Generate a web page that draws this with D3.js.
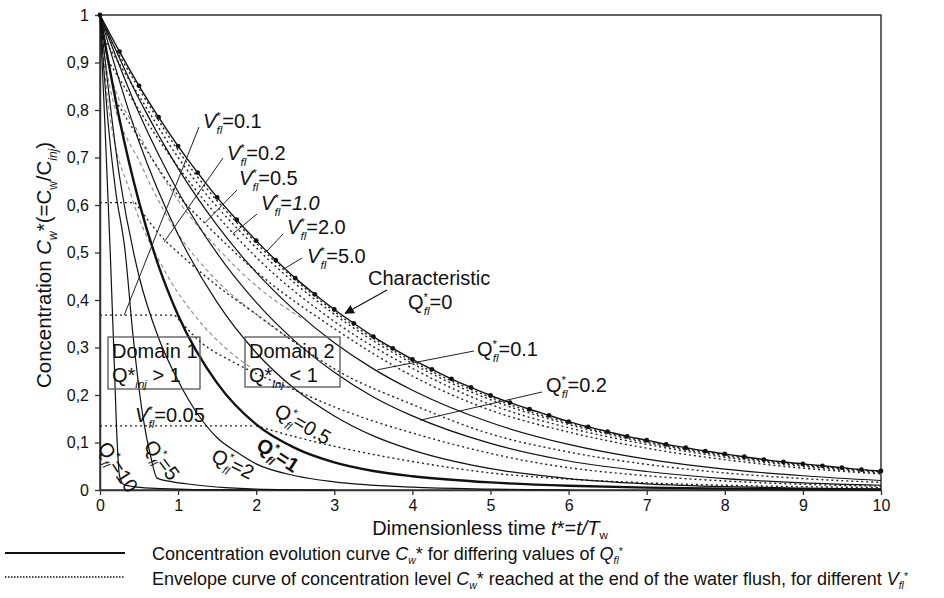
<!DOCTYPE html>
<html>
<head>
<meta charset="utf-8">
<script src="https://cdn.jsdelivr.net/npm/d3@7/dist/d3.min.js"></script>
<style>
  body { margin: 0; background: #fff; }
  text { font-family: "Liberation Sans", Arial, sans-serif; fill: #111; }
</style>
</head>
<body>
<div id="chart"></div>
<script>
// ---- data ----
const xTicks = [0, 1, 2, 3, 4, 5, 6, 7, 8, 9, 10];
const yTicks = [0, 0.1, 0.2, 0.3, 0.4, 0.5, 0.6, 0.7, 0.8, 0.9, 1];

// characteristic curve (Q_fl* = 0), one marker every 0.25
const charTime = [0, 0.25, 0.5, 0.75, 1, 1.25, 1.5, 1.75, 2, 2.25, 2.5, 2.75, 3, 3.25, 3.5, 3.75, 4, 4.25, 4.5, 4.75, 5,
  5.25, 5.5, 5.75, 6, 6.25, 6.5, 6.75, 7, 7.25, 7.5, 7.75, 8, 8.25, 8.5, 8.75, 9, 9.25, 9.5, 9.75, 10];
const charConc = [1, 0.923, 0.851, 0.785, 0.724, 0.668, 0.616, 0.569, 0.525, 0.484, 0.446, 0.412, 0.380, 0.351, 0.323,
  0.298, 0.275, 0.254, 0.234, 0.216, 0.199, 0.184, 0.170, 0.157, 0.144, 0.133, 0.123, 0.113, 0.105, 0.096, 0.089,
  0.082, 0.076, 0.070, 0.064, 0.059, 0.055, 0.051, 0.047, 0.043, 0.040];

// concentration evolution curves [t*, Cw*] for each Q_fl*
const curveQ0_1 = [[0, 1], [0.5, 0.823], [1, 0.677], [1.5, 0.557], [2, 0.458], [2.5, 0.377], [3, 0.31], [3.5, 0.255],
  [4, 0.21], [5, 0.142], [6, 0.096], [7, 0.065], [8, 0.044], [9, 0.03], [10, 0.02]];
const curveQ0_2 = [[0, 1], [0.5, 0.793], [1, 0.628], [1.5, 0.498], [2, 0.395], [2.5, 0.313], [3, 0.248], [3.5, 0.196],
  [4, 0.156], [5, 0.098], [6, 0.061], [7, 0.039], [8, 0.024], [9, 0.015], [10, 0.01]];
const curveQ0_5 = [[0, 1], [0.5, 0.733], [1, 0.538], [1.5, 0.395], [2, 0.289], [2.5, 0.212], [3, 0.156], [3.5, 0.114],
  [4, 0.084], [5, 0.045], [6, 0.024], [7, 0.013], [8, 0.007], [9, 0.004], [10, 0.002]];
const curveQ1 = [[0, 1], [0.25, 0.78], [0.5, 0.606], [0.75, 0.472], [1, 0.368], [1.5, 0.225], [2, 0.138], [2.5, 0.088],
  [3, 0.058], [3.5, 0.04], [4, 0.029], [5, 0.016], [6, 0.009], [7, 0.005], [8, 0.003], [10, 0.001]];
const curveQ2 = [[0, 1], [0.25, 0.66], [0.5, 0.45], [0.75, 0.32], [1, 0.23], [1.25, 0.16], [1.5, 0.11], [1.75, 0.08],
  [2, 0.055], [2.5, 0.03], [3, 0.017], [4, 0.006], [5, 0.002], [6, 0]];
const curveQ5 = [[0, 1], [0.1, 0.78], [0.2, 0.63], [0.32, 0.505], [0.42, 0.33], [0.55, 0.154], [0.65, 0.07],
  [0.73, 0.025], [0.9, 0.018], [1.2, 0.011], [1.6, 0.005], [2, 0.002], [3, 0]];
const curveQ10 = [[0, 1], [0.06, 0.78], [0.13, 0.505], [0.18, 0.28], [0.22, 0.1], [0.25, 0.03], [0.3, 0.012],
  [0.47, 0.006], [0.8, 0.003], [1.2, 0.001], [2, 0]];

// envelope curves (end-of-flush level) for each V_fl*
const envV0_05 = [[2, 0.135], [2.5, 0.112], [3, 0.092], [4, 0.06], [5, 0.036], [6, 0.023], [7, 0.015], [8, 0.01], [9, 0.007], [10, 0.005]];
const envV0_1 = [[0.96, 0.368], [1.3, 0.31], [1.7, 0.27], [2, 0.245], [2.5, 0.21], [3, 0.175], [3.5, 0.145], [4, 0.12],
  [4.5, 0.097], [5, 0.077], [5.5, 0.06], [6, 0.047], [7, 0.03], [8, 0.019], [9, 0.012], [10, 0.008]];
const envV0_2 = [[0.45, 0.605], [0.83, 0.526], [1, 0.5], [1.5, 0.43], [2, 0.37], [2.5, 0.31], [3, 0.255], [4, 0.18],
  [5, 0.118], [6, 0.08], [7, 0.054], [8, 0.036], [9, 0.024], [10, 0.016]];
const envV0_5 = [[0.2, 0.82], [0.5, 0.74], [1, 0.62], [1.34, 0.562], [2, 0.46], [3, 0.34], [4, 0.24], [5, 0.168],
  [6, 0.122], [7, 0.088], [8, 0.064], [9, 0.046], [10, 0.034]];
const envV1 = [[0.1, 0.905], [0.5, 0.8], [1, 0.68], [1.7, 0.541], [2, 0.49], [3, 0.355], [4, 0.256], [5, 0.18],
  [6, 0.131], [7, 0.096], [8, 0.069], [9, 0.05], [10, 0.036]];
const envV2 = [[0.05, 0.95], [0.5, 0.83], [1, 0.7], [2, 0.51], [3, 0.37], [4, 0.266], [5, 0.19], [6, 0.138], [7, 0.1],
  [8, 0.072], [9, 0.052], [10, 0.038]];
const envV5 = [[0.02, 0.98], [0.5, 0.845], [1, 0.715], [2, 0.52], [3, 0.376], [4, 0.271], [5, 0.195], [6, 0.141],
  [7, 0.102], [8, 0.074], [9, 0.054], [10, 0.039]];

// grey dashed curves inside the fan (upper left)
const fanA = [[0, 1], [0.1, 0.87], [0.54, 0.68], [0.92, 0.56], [1.5, 0.44], [2, 0.37], [2.5, 0.31]];
const fanB = [[0, 1], [0.1, 0.9], [0.5, 0.75], [1, 0.61], [1.5, 0.51], [2, 0.43], [2.6, 0.36]];
const fanC = [[0, 1], [0.1, 0.82], [0.4, 0.62], [0.8, 0.47], [1.2, 0.37], [1.6, 0.3], [2, 0.25]];

// horizontal end-of-flush levels in domain 1: [t end, Cw*]
const domain1Levels = [[0.45, 0.605], [0.96, 0.368], [1.98, 0.135]];

// ---- drawing ----
const width = 944, height = 598;
const svg = d3.select("#chart").append("svg")
  .attr("width", width)
  .attr("height", height);

const x = d3.scaleLinear().domain([0, 10]).range([100, 881]);
const y = d3.scaleLinear().domain([0, 1]).range([490, 15]);

const line = d3.line()
  .x(d => x(d[0]))
  .y(d => y(d[1]))
  .curve(d3.curveMonotoneX);

// rich text helper: parts = [[string, "i sub sup b back"], ...]
function rich(parent, px, py, parts, fs, subShift = 0.3, supShift = 0.42) {
  const t = parent.append("text").attr("x", px).attr("y", py).attr("font-size", fs);
  let cur = 0;
  parts.forEach(([str, kind]) => {
    const k = kind.split(" ");
    let target = 0, size = fs;
    if (k.includes("sub")) { target = fs * subShift; size = fs * 0.58; }
    if (k.includes("sup")) { target = -fs * supShift; size = fs * 0.58; }
    const ts = t.append("tspan").text(str).attr("font-size", size);
    if (target - cur !== 0) ts.attr("dy", target - cur);
    if (k.includes("i")) ts.attr("font-style", "italic");
    if (k.includes("b")) ts.attr("font-weight", "bold");
    if (k.includes("back")) ts.attr("dx", -fs * 0.22);
    cur = target;
  });
  return t;
}

// plot frame
svg.append("rect")
  .attr("x", x(0)).attr("y", y(1))
  .attr("width", x(10) - x(0)).attr("height", y(0) - y(1))
  .attr("fill", "none").attr("stroke", "#333").attr("stroke-width", 1.5);

// axes
const yAxis = svg.append("g")
  .attr("transform", `translate(${x(0)},0)`)
  .call(d3.axisLeft(y).tickValues(yTicks).tickSize(5).tickSizeOuter(0).tickPadding(6)
    .tickFormat(d => d === 0 || d === 1 ? String(d) : d3.format(".1f")(d).replace(".", ",")));
const xAxis = svg.append("g")
  .attr("transform", `translate(0,${y(0)})`)
  .call(d3.axisBottom(x).tickValues(xTicks).tickSize(5).tickSizeOuter(0).tickPadding(5));
[xAxis, yAxis].forEach(a => {
  a.select(".domain").attr("stroke", "#333").attr("stroke-width", 1.5);
  a.selectAll(".tick line").attr("stroke", "#333").attr("stroke-width", 1.3);
  a.selectAll(".tick text").attr("font-size", 16).attr("fill", "#111")
    .attr("font-family", "'Liberation Sans', Arial, sans-serif");
});

// axis titles
rich(svg, 0, 0, [["Dimensionless time ", ""], ["t", "i"], ["*=", ""], ["t/T", "i"], ["w", "sub"]], 20, 0.2)
  .attr("x", 490).attr("y", 535).attr("text-anchor", "middle");
rich(svg.append("g").attr("transform", "translate(51,265) rotate(-90)"), 0, 0,
  [["Concentration ", ""], ["C", "i"], ["w", "sub i"], ["*(=C", ""], ["w", "sub"], ["/C", ""], ["inj", "sub i"], [")", ""]], 20.5)
  .attr("text-anchor", "middle");

const plot = svg.append("g");

// grey dashed curves in the fan
plot.selectAll(".fan").data([fanA, fanB, fanC]).enter().append("path")
  .attr("d", line)
  .attr("fill", "none").attr("stroke", "#888").attr("stroke-width", 1.1).attr("stroke-dasharray", "4,3");

// domain 1 horizontal levels
plot.selectAll(".lvl").data(domain1Levels).enter().append("line")
  .attr("x1", x(0)).attr("x2", d => x(d[0]))
  .attr("y1", d => y(d[1])).attr("y2", d => y(d[1]))
  .attr("stroke", "#222").attr("stroke-width", 1.3).attr("stroke-dasharray", "2,3");

// envelopes
const envelopes = [envV0_05, envV0_1, envV0_2, envV0_5, envV1, envV2, envV5];
plot.selectAll(".env").data(envelopes).enter().append("path")
  .attr("d", line)
  .attr("fill", "none").attr("stroke", "#222").attr("stroke-width", 1.4).attr("stroke-dasharray", "2,3");

// concentration curves
const curves = [
  { d: curveQ0_1, w: 1.2 }, { d: curveQ0_2, w: 1.2 }, { d: curveQ0_5, w: 1.2 }, { d: curveQ1, w: 2.4 },
  { d: curveQ2, w: 1.2 }, { d: curveQ5, w: 1.2 }, { d: curveQ10, w: 1.2 }
];
plot.selectAll(".qc").data(curves).enter().append("path")
  .attr("d", c => line(c.d))
  .attr("fill", "none").attr("stroke", "#111").attr("stroke-width", c => c.w);

// characteristic curve with markers
const charData = charTime.map((t, i) => [t, charConc[i]]);
plot.append("path").attr("d", line(charData))
  .attr("fill", "none").attr("stroke", "#111").attr("stroke-width", 1.4);
plot.selectAll(".mk").data(charData).enter().append("circle")
  .attr("cx", d => x(d[0])).attr("cy", d => y(d[1])).attr("r", 2.4).attr("fill", "#111");

// leader lines [label point px, target in data units]
const leaders = [
  [199, 127, 0.31, 0.368], [223, 158, 0.82, 0.522], [237, 190, 1.34, 0.562], [257, 214, 1.70, 0.539],
  [283, 234, 2.14, 0.503], [302, 258, 2.37, 0.467], [474, 351, 3.55, 0.253], [542, 392, 4.10, 0.147]
];
plot.selectAll(".ld").data(leaders).enter().append("line")
  .attr("x1", d => d[0]).attr("y1", d => d[1])
  .attr("x2", d => x(d[2])).attr("y2", d => y(d[3]))
  .attr("stroke", "#222").attr("stroke-width", 1);

// arrow to characteristic
svg.append("defs").append("marker").attr("id", "arr")
  .attr("viewBox", "0 0 10 10").attr("refX", 9).attr("refY", 5)
  .attr("markerWidth", 8).attr("markerHeight", 8).attr("orient", "auto")
  .append("path").attr("d", "M0,0L10,5L0,10z").attr("fill", "#111");
plot.append("line")
  .attr("x1", 387).attr("y1", 290).attr("x2", x(3.14)).attr("y2", y(0.372))
  .attr("stroke", "#111").attr("stroke-width", 1.2).attr("marker-end", "url(#arr)");

// labels
const lab = svg.append("g");
const vfl = v => [["V", "i"], ["*", "sup"], ["fl", "sub i back"], ["=" + v, ""]];
const qfl = v => [["Q", ""], ["*", "sup"], ["fl", "sub i back"], ["=" + v, ""]];
rich(lab, 203, 128, vfl("0.1"), 20);
rich(lab, 227, 160, vfl("0.2"), 20);
rich(lab, 239, 185, vfl("0.5"), 20);
rich(lab, 261, 210, [["V", "i"], ["*", "sup"], ["fl", "sub i back"], ["=", ""], ["1.0", "i"]], 20);
rich(lab, 287, 234, vfl("2.0"), 20);
rich(lab, 307, 263, vfl("5.0"), 20);
rich(lab, 135, 422, vfl("0.05"), 20);
rich(lab, 368, 285, [["Characteristic", ""]], 20);
rich(lab, 408, 309, qfl("0"), 20);
rich(lab, 477, 356, qfl("0.1"), 20);
rich(lab, 546, 392, qfl("0.2"), 20);

// domain boxes
[[108, 337, 92, 52, "Domain 1", "> 1"], [245, 337, 95, 50, "Domain 2", "< 1"]].forEach(b => {
  lab.append("rect").attr("x", b[0]).attr("y", b[1]).attr("width", b[2]).attr("height", b[3])
    .attr("fill", "none").attr("stroke", "#555").attr("stroke-width", 1.3);
  rich(lab, b[0] + 4, b[1] + 21, [[b[4], ""]], 20);
  rich(lab, b[0] + 4, b[1] + 45, [["Q*", ""], ["inj", "sub i"], [" " + b[5], ""]], 20);
});

// rotated Q labels along the curves
const rotLabels = [
  [118, 467, 57, "10", false], [162, 460, 53, "5", false], [233, 464, 26, "2", false],
  [278, 455, 33, "1", true], [303, 424, 30, "0.5", false]
];
rotLabels.forEach(r => {
  const g = lab.append("g").attr("transform", `translate(${r[0]},${r[1]}) rotate(${r[2]})`);
  const parts = qfl(r[3]).map(p => r[4] ? [p[0], p[1] + " b"] : p);
  rich(g, 0, 7, parts, 20).attr("text-anchor", "middle");
});

// legend
svg.append("line").attr("x1", 5).attr("x2", 125).attr("y1", 553).attr("y2", 553)
  .attr("stroke", "#111").attr("stroke-width", 2);
svg.append("line").attr("x1", 5).attr("x2", 125).attr("y1", 577).attr("y2", 577)
  .attr("stroke", "#111").attr("stroke-width", 1.5).attr("stroke-dasharray", "1.5,1.5");
rich(svg, 152, 560, [["Concentration evolution curve ", ""], ["C", "i"], ["w", "sub i"], ["* for differing values of ", ""],
  ["Q", "i"], ["fl", "sub i"], ["*", "sup"]], 18, 0.2, 0.3);
rich(svg, 152, 585, [["Envelope curve of concentration level ", ""], ["C", "i"], ["w", "sub i"],
  ["* reached at the end of the water flush, for different  ", ""], ["V", "i"], ["fl", "sub i"], ["*", "sup"]], 18, 0.2, 0.3);
</script>
</body>
</html>
